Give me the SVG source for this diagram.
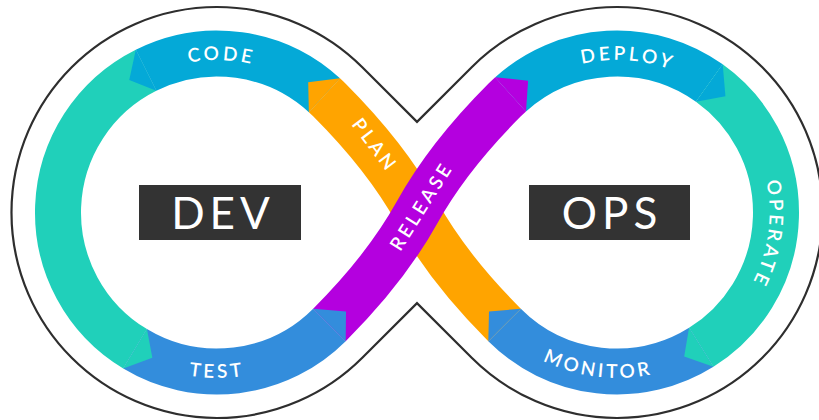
<svg xmlns="http://www.w3.org/2000/svg" xmlns:xlink="http://www.w3.org/1999/xlink" width="819" height="420" viewBox="0 0 819 420">
<style>
.band{fill:none;stroke-width:46;stroke-linecap:butt}
.lbl{font-family:Lato,"Open Sans","DejaVu Sans",sans-serif;font-size:19px;font-weight:600;fill:#fff;letter-spacing:3.2px}
.big{font-family:Lato,"Open Sans","DejaVu Sans",sans-serif;font-size:44px;fill:#fff;letter-spacing:5px}
.box{fill:#333}
.teal{stroke:#20d0ba}.sky{stroke:#04a9d7}.blue{stroke:#338ddc}.orange{stroke:#ffa400}.purple{stroke:#b400df}
</style>
<defs>
<path id="pCode" d="M87.1,132.6 A152.5,152.5 0 0 1 351.1,140.0"/>
<path id="pDeploy" d="M490.6,127.2 A152.5,152.5 0 0 1 754.1,145.6"/>
<path id="pOperate" d="M710.9,92.3 A152.5,152.5 0 0 1 674.1,353.9"/>
<path id="pTest" d="M73.7,295.25 A165.5,165.5 0 0 0 360.3,295.25"/>
<path id="pMonitor" d="M464.7,277.2 A165.5,165.5 0 0 0 749.2,312.1"/>
</defs>
<rect width="819" height="420" fill="#fff"/>
<g id="outline">
<path d="M417,121.9 L471.7,67.2 A205.5,205.5 0 1 1 471.7,357.8 L417,303.1 L362.3,357.8 A205.5,205.5 0 1 1 362.3,67.2 Z" fill="none" stroke="#2e2e2e" stroke-width="2.2" stroke-linejoin="miter"/>
</g>
<g id="stage-build">
<path class="band teal" d="M146.05,70.21 A159,159 0 0 0 135.11,348.79"/>
</g>
<g id="stage-code">
<path class="band sky" d="M324.42,95.27 A159,159 0 0 0 146.05,70.21"/>
<text class="lbl" text-anchor="middle"><textPath href="#pCode" startOffset="50%">CODE</textPath></text>
</g>
<g id="stage-test">
<path class="band blue" d="M135.11,348.79 A159,159 0 0 0 329.43,324.93"/>
<text class="lbl" text-anchor="middle"><textPath href="#pTest" startOffset="50%">TEST</textPath></text>
</g>
<g id="stage-deploy">
<path class="band sky" d="M510.61,94.34 A159,159 0 0 1 709.33,83.06"/>
<text class="lbl" text-anchor="middle"><textPath href="#pDeploy" startOffset="50%">DEPLOY</textPath></text>
</g>
<g id="stage-operate">
<path class="band teal" d="M709.33,83.06 A159,159 0 0 1 701.26,347.34"/>
<text class="lbl" text-anchor="middle"><textPath href="#pOperate" startOffset="50%">OPERATE</textPath></text>
</g>
<g id="stage-monitor">
<path class="band blue" d="M701.26,347.34 A159,159 0 0 1 504.57,324.93"/>
<text class="lbl" text-anchor="middle"><textPath href="#pMonitor" startOffset="50%">MONITOR</textPath></text>
</g>
<g id="stage-plan">
<path class="band orange" d="M504.57,324.93 C472.75,293.11 441.25,256.25 417,212.5 C392.75,168.75 361.25,131.89 329.43,100.07 A159,159 0 0 0 324.42,95.27"/>
<text class="lbl" text-anchor="middle" transform="translate(374,143.5) rotate(53)" x="2" y="7">PLAN</text>
</g>
<g id="stage-release">
<path class="band purple" d="M329.43,324.93 C361.25,293.11 392.75,256.25 417,212.5 C441.25,168.75 472.75,131.89 504.57,100.07 A159,159 0 0 1 510.61,94.34"/>
<text class="lbl" text-anchor="middle" transform="translate(420,207.5) rotate(-58)" x="2" y="7">RELEASE</text>
</g>
<g id="connectors">
<polygon fill="#ffa400" points="339.96,78.31 308.2,82.25 308.88,112.23"/>
<polygon fill="#04a9d7" points="135.79,49.63 129.25,79.91 156.32,90.79"/>
<polygon fill="#20d0ba" points="123.27,368.51 152.33,357.75 146.96,329.08"/>
<polygon fill="#338ddc" points="345.69,341.19 346,311.5 313.17,308.67"/>
<polygon fill="#b400df" points="495.22,77.26 528.09,80.69 526.0,111.44"/>
<polygon fill="#04a9d7" points="722.69,64.33 725.44,96.21 695.98,101.78"/>
<polygon fill="#20d0ba" points="713.44,366.84 684.19,356.6 689.07,327.83"/>
<polygon fill="#338ddc" points="488.31,341.19 489,311.5 520.83,308.67"/>
</g>
<g id="dev">
<rect class="box" x="139" y="185" width="162" height="55"/>
<text class="big" x="223" y="228.5" text-anchor="middle">DEV</text>
</g>
<g id="ops">
<rect class="box" x="529" y="185" width="161" height="55"/>
<text class="big" x="612" y="228.5" text-anchor="middle">OPS</text>
</g>
</svg>
